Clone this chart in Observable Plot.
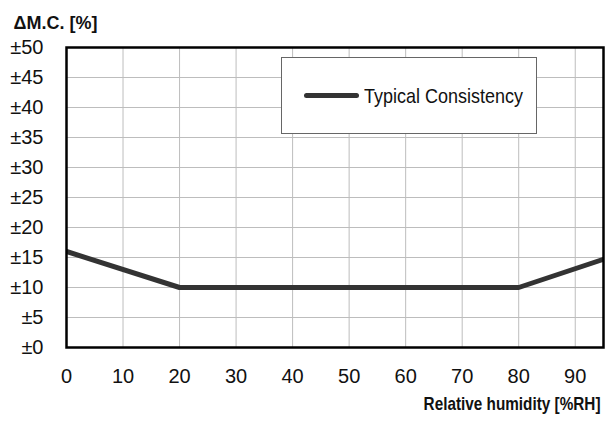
<!DOCTYPE html>
<html>
<head>
<meta charset="utf-8">
<script src="https://cdn.jsdelivr.net/npm/d3@7"></script>
<script src="https://cdn.jsdelivr.net/npm/@observablehq/plot@0.6"></script>
<style>
  html, body { margin: 0; padding: 0; background: #fff; }
  #wrap { position: relative; width: 609px; height: 421px; font-family: "Liberation Sans", Arial, sans-serif; }
  #legend { position: absolute; left: 281px; top: 57px; width: 256px; height: 77px; box-sizing: border-box;
    border: 1px solid #666; background: #fff; display: flex; align-items: center; }
  #legend .sw { margin-left: 22px; width: 55px; height: 5px; border-radius: 3px; background: #333; flex: none; }
  #legend .lb { margin-left: 5px; font-size: 21px; color: #111; white-space: nowrap; transform-origin: left center; display: inline-block; }
</style>
</head>
<body>
<div id="wrap"></div>
<script>
const humidity = [0, 20, 80, 95];
const consistency = [16, 10, 10, 14.7];
const xTicks = [0, 10, 20, 30, 40, 50, 60, 70, 80, 90];
const yTicks = [0, 5, 10, 15, 20, 25, 30, 35, 40, 45, 50];
const seriesName = "Typical Consistency";
const yTitle = "ΔM.C. [%]";
const xTitle = "Relative humidity [%RH]";

const data = humidity.map((h, i) => ({h, v: consistency[i]}));

const chart = Plot.plot({
  width: 609,
  height: 421,
  marginLeft: 66,
  marginTop: 47,
  marginRight: 6,
  marginBottom: 74,
  style: {fontFamily: '"Liberation Sans", Arial, sans-serif', fontSize: "20px", color: "#111", background: "#fff"},
  x: {domain: [0, 95], ticks: xTicks, label: null},
  y: {domain: [0, 50], ticks: yTicks, label: null},
  marks: [
    Plot.gridX(xTicks, {stroke: "#bdbdbd", strokeOpacity: 1, strokeWidth: 1}),
    Plot.gridY(yTicks, {stroke: "#bdbdbd", strokeOpacity: 1, strokeWidth: 1}),
    Plot.axisX(xTicks, {tickSize: 0, tickPadding: 21, fontSize: 20}),
    Plot.axisY(yTicks, {tickSize: 0, tickPadding: 23, fontSize: 20, tickFormat: d => "±" + d}),
    Plot.line(data, {x: "h", y: "v", stroke: "#333", strokeWidth: 5, strokeLinejoin: "miter", clip: true}),
    Plot.frame({stroke: "#000", strokeWidth: 2.5}),
    Plot.text([yTitle], {frameAnchor: "top-left", dx: -53, dy: -31, textAnchor: "start", fontWeight: "bold", fontSize: 18}),
    Plot.text([xTitle], {frameAnchor: "bottom-right", dx: -3, dy: 62, textAnchor: "end", fontWeight: "bold", fontSize: 18})
  ]
});

const wrap = document.getElementById("wrap");
wrap.appendChild(chart);

// condense the x title horizontally about its (right) anchor to the reference width
d3.select(chart).selectAll("text").filter(function() { return this.textContent === xTitle; })
  .each(function() {
    const bw = this.getBBox().width;
    const sx = Math.min(1, 177 / bw);
    const t = this.getAttribute("transform") || "";
    const x = +this.getAttribute("x") || 0;
    const y = +this.getAttribute("y") || 0;
    this.setAttribute("transform", `${t} translate(${x},${y}) scale(${sx},1) translate(${-x},${-y})`);
  });

const legend = document.createElement("div");
legend.id = "legend";
legend.innerHTML = '<div class="sw"></div><span class="lb"></span>';
const lb = legend.querySelector(".lb");
lb.textContent = seriesName;
wrap.appendChild(legend);
const w = lb.getBoundingClientRect().width;
lb.style.transform = `scaleX(${159 / w})`;
</script>
</body>
</html>
